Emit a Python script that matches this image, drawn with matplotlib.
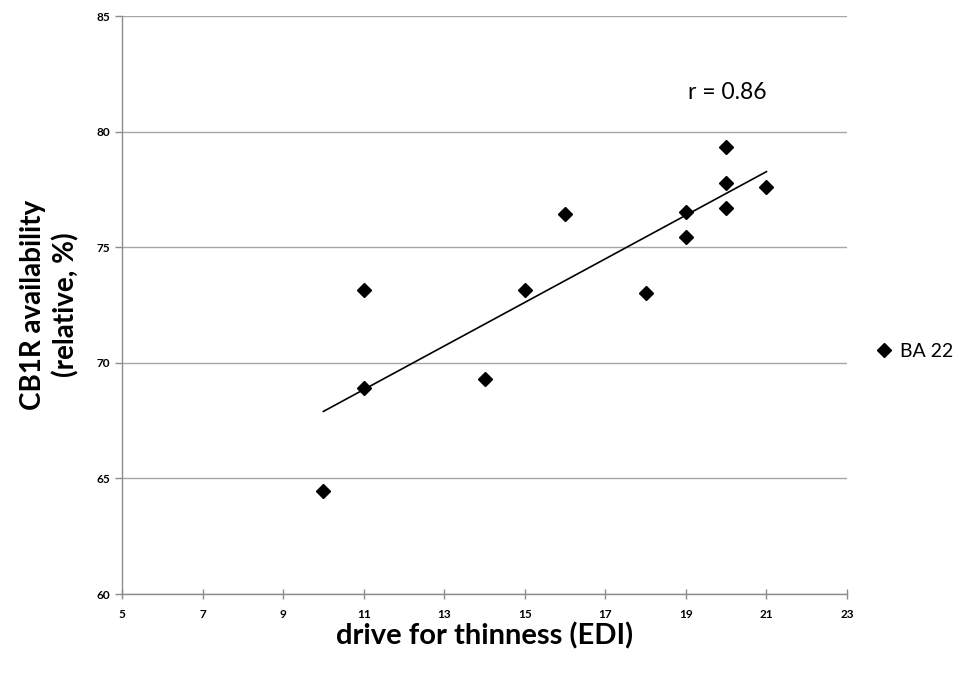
import numpy as np
import matplotlib.pyplot as plt

plt.rcParams['font.family'] = ['Lato', 'DejaVu Sans']

# data
edi = [10, 11, 11, 14, 15, 16, 18, 19, 19, 20, 20, 20, 21]
cb1r = [64.45, 73.17, 68.89, 69.28, 73.17, 76.44, 73.04, 76.54, 75.45,
        79.35, 77.76, 76.71, 77.62]
series_name = 'BA 22'
x_ticks = [5, 7, 9, 11, 13, 15, 17, 19, 21, 23]
y_ticks = [60, 65, 70, 75, 80, 85]

GRID = '#a6a6a6'
SPINE = '#8c8c8c'

fig = plt.figure(figsize=(9.73, 6.76), dpi=100)
ax = fig.add_axes([0.1254, 0.1213, 0.7451, 0.855])

ax.set_xlim(5, 23)
ax.set_ylim(60, 85)
ax.set_xticks(x_ticks)
ax.set_yticks(y_ticks)
ax.yaxis.grid(True, color=GRID, linewidth=1)
ax.set_axisbelow(True)

for s in ('top', 'right'):
    ax.spines[s].set_visible(False)
for s in ('left', 'bottom'):
    ax.spines[s].set_color(SPINE)
    ax.spines[s].set_linewidth(1)

ax.tick_params(axis='both', colors=SPINE, labelcolor='black', labelsize=8.5,
               length=5, width=1)
ax.tick_params(axis='x', direction='inout', length=7, pad=7)
for lbl in ax.get_xticklabels() + ax.get_yticklabels():
    lbl.set_fontweight('bold')

pts, = ax.plot(edi, cb1r, linestyle='none', marker='D', markersize=7,
               color='black', label=series_name, zorder=3)

# linear trend line over the data range
slope, intercept = np.polyfit(edi, cb1r, 1)
xs = np.array([min(edi), max(edi)])
ax.plot(xs, slope * xs + intercept, color='black', linewidth=1.2, zorder=2)

r = np.corrcoef(edi, cb1r)[0, 1]
ax.text(20.04, 81.7, f'r = {r:.2f}', fontsize=16.5, ha='center', va='center')

ax.set_xlabel('drive for thinness (EDI)', fontsize=21, fontweight='bold',
              labelpad=2)
ax.set_ylabel('CB1R availability\n(relative, %)', fontsize=20,
              fontweight='bold', labelpad=12, linespacing=1.3)

ax.legend(handles=[pts], loc='center left', bbox_to_anchor=(1.03, 0.42),
          frameon=False, fontsize=14, handlelength=0.8, handletextpad=0.4,
          borderaxespad=0)

fig.savefig('out.png', dpi=100)
